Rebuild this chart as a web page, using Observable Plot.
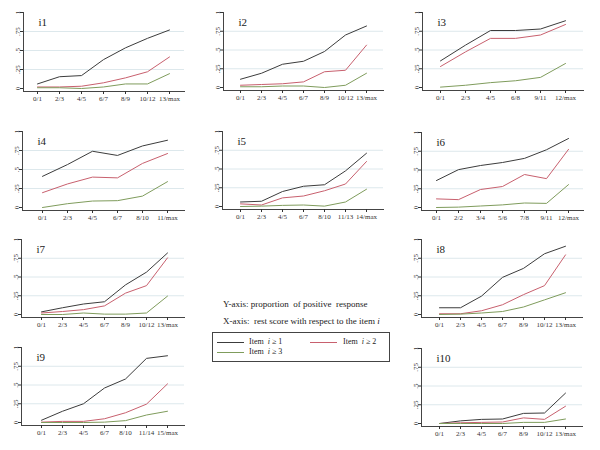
<!DOCTYPE html>
<html><head><meta charset="utf-8">
<script src="https://cdn.jsdelivr.net/npm/d3@7"></script>
<script src="https://cdn.jsdelivr.net/npm/@observablehq/plot@0.6"></script>
<style>
body{margin:0;background:#fff;font-family:"Liberation Serif",serif;}
#root{position:relative;width:600px;height:450px;overflow:hidden;background:#fff;}
.panel{position:absolute;}
.panel svg, .panel svg text{font-family:"Liberation Serif",serif !important;}
.note{position:absolute;font-size:9px;color:#222;white-space:nowrap;}
#legend{position:absolute;left:212px;top:332px;width:176px;height:28px;border:1px solid #444;}
.lg{position:absolute;font-size:8px;color:#222;white-space:nowrap;}
.ll{position:absolute;height:0;border-top:1px solid;width:27px;}
</style></head><body><div id="root"></div>
<script>
// ---- categories (x tick labels) ----
const cats1 = ["0/1","2/3","4/5","6/7","8/9","10/12","13/max"];
const cats2 = ["0/1","2/3","4/5","6/7","8/9","10/12","13/max"];
const cats3 = ["0/1","2/3","4/5","6/8","9/11","12/max"];
const cats4 = ["0/1","2/3","4/5","6/7","8/10","11/max"];
const cats5 = ["0/1","2/3","4/5","6/7","8/10","11/13","14/max"];
const cats6 = ["0/1","2/2","3/4","5/6","7/8","9/11","12/max"];
const cats7 = ["0/1","2/3","4/5","6/7","8/9","10/12","13/max"];
const cats8 = ["0/1","2/3","4/5","6/7","8/9","10/12","13/max"];
const cats9 = ["0/1","2/3","4/5","6/7","8/10","11/14","15/max"];
const cats10 = ["0/1","2/3","4/5","6/7","8/9","10/12","13/max"];

// ---- series: Item i >= 1, >= 2, >= 3 ----
const i1_ge1 = [0.06,0.155,0.17,0.38,0.535,0.66,0.77];
const i1_ge2 = [0.02,0.02,0.03,0.075,0.14,0.22,0.415];
const i1_ge3 = [0.01,0.01,0.0,0.02,0.06,0.06,0.195];

const i2_ge1 = [0.11,0.19,0.31,0.35,0.48,0.70,0.82];
const i2_ge2 = [0.03,0.04,0.05,0.075,0.21,0.23,0.565];
const i2_ge3 = [0.01,0.01,0.02,0.02,0.0,0.03,0.19];

const i3_ge1 = [0.355,0.565,0.76,0.76,0.78,0.89];
const i3_ge2 = [0.28,0.475,0.655,0.655,0.70,0.84];
const i3_ge3 = [0.005,0.03,0.065,0.09,0.135,0.32];

const i4_ge1 = [0.41,0.565,0.74,0.685,0.81,0.885];
const i4_ge2 = [0.195,0.31,0.40,0.39,0.58,0.71];
const i4_ge3 = [0.0,0.05,0.085,0.09,0.15,0.34];

const i5_ge1 = [0.06,0.07,0.20,0.27,0.29,0.475,0.71];
const i5_ge2 = [0.035,0.02,0.115,0.14,0.21,0.30,0.60];
const i5_ge3 = [0.0,0.005,0.015,0.02,0.005,0.06,0.23];

const i6_ge1 = [0.36,0.505,0.56,0.60,0.655,0.77,0.92];
const i6_ge2 = [0.115,0.105,0.24,0.28,0.44,0.385,0.775];
const i6_ge3 = [0.0,0.005,0.02,0.035,0.06,0.055,0.305];

const i7_ge1 = [0.035,0.09,0.14,0.17,0.395,0.565,0.82];
const i7_ge2 = [0.02,0.04,0.065,0.115,0.285,0.385,0.755];
const i7_ge3 = [0.0,0.0,0.02,0.005,0.005,0.02,0.245];

const i8_ge1 = [0.09,0.09,0.245,0.495,0.615,0.81,0.91];
const i8_ge2 = [0.01,0.01,0.05,0.13,0.265,0.385,0.795];
const i8_ge3 = [0.0,0.005,0.02,0.04,0.10,0.195,0.29];

const i9_ge1 = [0.03,0.15,0.25,0.46,0.58,0.855,0.89];
const i9_ge2 = [0.005,0.015,0.015,0.05,0.13,0.245,0.515];
const i9_ge3 = [0.0,0.0,0.0,0.005,0.025,0.10,0.15];

const i10_ge1 = [0.0,0.035,0.055,0.06,0.135,0.14,0.405];
const i10_ge2 = [0.0,0.01,0.015,0.02,0.075,0.055,0.23];
const i10_ge3 = [0.0,0.0,0.0,0.0,0.015,0.015,0.06];

const yTicks = [0,0.25,0.5,0.75,1];
const seriesKeys = ["ge1","ge2","ge3"];
const seriesColors = ["#3c3c3c","#c8606e","#7f9c5c"];

// panel placement (layout only)
const panels = [
  {name:"i1", cats:cats1, vals:[i1_ge1,i1_ge2,i1_ge3], left:0,   top:0,   ax:23, x0:26, x1:180, y1:12, y0:88},
  {name:"i2", cats:cats2, vals:[i2_ge1,i2_ge2,i2_ge3], left:200, top:0,   ax:23, x0:26, x1:179, y1:12, y0:87},
  {name:"i3", cats:cats3, vals:[i3_ge1,i3_ge2,i3_ge3], left:400, top:0,   ax:22, x0:25, x1:179, y1:12, y0:87},
  {name:"i4", cats:cats4, vals:[i4_ge1,i4_ge2,i4_ge3], left:0,   top:115, ax:22, x0:29, x1:180, y1:16, y0:92},
  {name:"i5", cats:cats5, vals:[i5_ge1,i5_ge2,i5_ge3], left:200, top:115, ax:22, x0:27, x1:179, y1:16, y0:91},
  {name:"i6", cats:cats6, vals:[i6_ge1,i6_ge2,i6_ge3], left:400, top:115, ax:21, x0:24, x1:179, y1:17, y0:92},
  {name:"i7", cats:cats7, vals:[i7_ge1,i7_ge2,i7_ge3], left:0,   top:225, ax:21, x0:27, x1:180, y1:14, y0:89},
  {name:"i8", cats:cats8, vals:[i8_ge1,i8_ge2,i8_ge3], left:400, top:225, ax:21, x0:26, x1:178, y1:14, y0:89},
  {name:"i9", cats:cats9, vals:[i9_ge1,i9_ge2,i9_ge3], left:0,   top:335, ax:21, x0:27, x1:180, y1:12, y0:87},
  {name:"i10",cats:cats10,vals:[i10_ge1,i10_ge2,i10_ge3],left:400,top:335, ax:21, x0:25, x1:178, y1:13, y0:88}
];

const root = document.getElementById("root");
const W = 198, H = 110;
const fmt = d => d === 0 ? "0" : d === 1 ? "1" : String(d).replace(/^0/, "");
const serif = "'Liberation Serif', serif";

for (const p of panels) {
  const rows = [];
  seriesKeys.forEach((s, k) => p.vals[k].forEach((v, i) => rows.push({cat: p.cats[i], v, s})));
  const chart = Plot.plot({
    width: W, height: H,
    marginLeft: p.ax, marginTop: p.y1, marginBottom: H - (p.y0 + 3), marginRight: W - (p.x1 + 4),
    x: {type: "point", domain: p.cats, range: [p.x0, p.x1], label: null},
    y: {domain: [0, 1], range: [p.y0, p.y1], label: null},
    color: {domain: seriesKeys, range: seriesColors},
    style: {fontFamily: serif, fontSize: "7px", background: "transparent", color: "#333", overflow: "visible"},
    marks: [
      Plot.gridY([0.25, 0.5, 0.75], {stroke: "#dde8ec", strokeOpacity: 1}),
      Plot.frame({anchor: "left", stroke: "#444"}),
      Plot.frame({anchor: "bottom", stroke: "#444"}),
      Plot.axisY(yTicks, {tickSize: 3, tickPadding: 1, tickRotate: -90, tickFormat: fmt, label: null, fontSize: 7}),
      Plot.axisX({tickSize: 3, tickPadding: 2, label: null, fontSize: 7}),
      Plot.lineY(rows, {x: "cat", y: "v", z: "s", stroke: "s", strokeWidth: 1}),
      Plot.text([p.name], {frameAnchor: "top-left", dx: 15, dy: 6, fontSize: 11, fontFamily: serif, fill: "#222"})
    ]
  });
  const div = document.createElement("div");
  div.className = "panel";
  div.style.left = p.left + "px";
  div.style.top = p.top + "px";
  div.appendChild(chart);
  root.appendChild(div);
}

// notes and legend
root.insertAdjacentHTML("beforeend", `
<div class="note" style="left:223px;top:299px;">Y-axis: proportion&nbsp; of positive&nbsp; response</div>
<div class="note" style="left:223px;top:316px;">X-axis:&nbsp; rest score with respect to the item <i>i</i></div>
<div id="legend"></div>
<div class="ll" style="left:217px;top:342px;border-color:${seriesColors[0]}"></div>
<div class="lg" style="left:249px;top:337px;">Item&nbsp; <i>i</i> ≥ 1</div>
<div class="ll" style="left:310px;top:342px;border-color:${seriesColors[1]}"></div>
<div class="lg" style="left:343px;top:337px;">Item&nbsp; <i>i</i> ≥ 2</div>
<div class="ll" style="left:217px;top:352px;border-color:${seriesColors[2]}"></div>
<div class="lg" style="left:249px;top:347px;">Item&nbsp; <i>i</i> ≥ 3</div>
`);
</script>
</body></html>
